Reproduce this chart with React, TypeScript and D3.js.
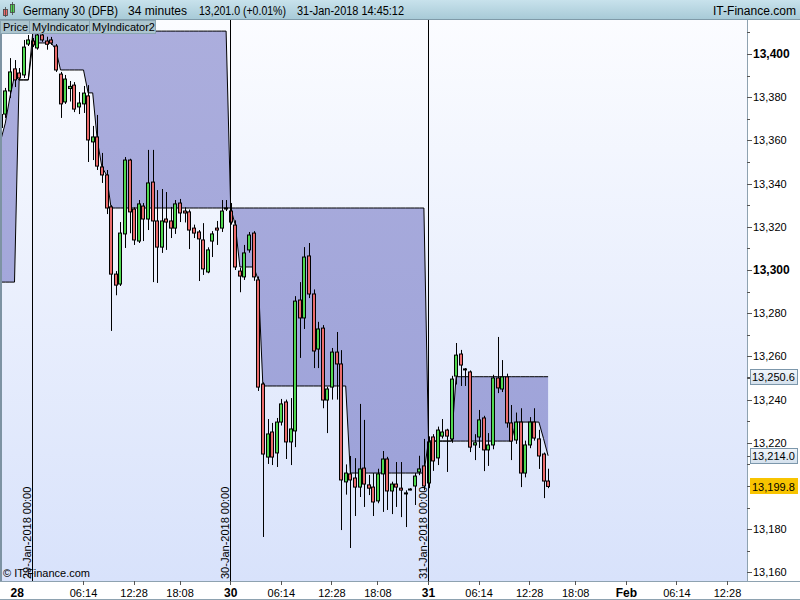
import React from 'react';
import * as d3 from 'd3';

// candle index: 0 = 29-Jan 00:00, 34-minute bars, 43 bars per day
const START = -7;
const opens = [
  13366.0,
  13372.2, 13382.9, 13393.1, 13391.2, 13390.3, 13404.6,
  13406.0, 13402.8, 13408.8, 13406.0, 13406.5, 13403.7, 13390.7, 13377.8, 13384.0, 13385.6,
  13375.5, 13376.9, 13380.6, 13359.3, 13361.6, 13347.7, 13344.0, 13329.2, 13298.1, 13293.5,
  13316.7, 13350.9, 13328.2, 13313.4, 13329.6, 13323.6, 13340.7, 13322.7, 13310.6, 13323.6,
  13322.7, 13319.4, 13331.0, 13327.3, 13326.9, 13319.4, 13317.6, 13313.9, 13299.1, 13313.4,
  13319.4, 13319.4, 13328.7,
  13327.3, 13320.8, 13299.5, 13296.8, 13309.3, 13317.1, 13295.4, 13247.2, 13213.4, 13225.0,
  13215.3, 13229.6, 13238.9, 13220.4, 13225.5, 13286.1, 13277.8, 13306.5, 13288.9, 13263.4,
  13273.1, 13239.8, 13245.8, 13262.0, 13256.5, 13201.9, 13205.6, 13203.7, 13199.5, 13208.3,
  13200.5, 13199.5, 13193.1, 13205.6, 13212.5, 13197.7, 13200.9, 13199.0, 13196.8, 13198.6,
  13200.0, 13206.5, 13209.3,
  13201.4, 13222.7, 13213.0, 13223.1, 13225.9, 13221.8, 13250.9, 13261.1, 13254.2, 13252.8,
  13219.0, 13222.7, 13231.5, 13216.7, 13219.0, 13250.0, 13244.9, 13250.5, 13229.2, 13221.3,
  13229.6, 13206.0, 13219.0, 13229.6, 13221.8, 13214.8, 13202.3,
];
const highs = [
  13374.0,
  13384.3, 13398.1, 13397.2, 13393.5, 13406.5, 13408.8,
  13407.4, 13410.0, 13409.7, 13408.0, 13407.9, 13404.6, 13391.7, 13390.3, 13387.5, 13387.0,
  13382.4, 13385.2, 13385.6, 13366.7, 13371.8, 13354.2, 13346.3, 13330.0, 13299.5, 13322.2,
  13352.3, 13351.5, 13329.0, 13332.4, 13331.0, 13355.6, 13355.6, 13337.0, 13337.5, 13336.1,
  13329.2, 13332.4, 13332.9, 13329.0, 13328.0, 13321.0, 13318.5, 13321.7, 13310.5, 13318.0,
  13322.7, 13332.4, 13332.4,
  13331.0, 13323.0, 13301.0, 13311.6, 13317.6, 13318.0, 13297.0, 13248.0, 13231.0, 13229.2,
  13231.5, 13240.3, 13240.0, 13240.7, 13287.9, 13294.4, 13310.6, 13312.5, 13291.0, 13276.0,
  13274.5, 13246.0, 13263.9, 13271.3, 13262.9, 13210.0, 13213.9, 13212.9, 13238.0, 13230.6,
  13205.1, 13206.0, 13208.0, 13216.2, 13213.5, 13202.0, 13211.1, 13211.1, 13198.0, 13199.0,
  13206.0, 13214.0, 13221.8,
  13223.0, 13224.0, 13227.5, 13231.0, 13226.5, 13251.0, 13266.2, 13263.0, 13254.6, 13253.5,
  13224.0, 13235.2, 13232.5, 13224.5, 13251.5, 13269.0, 13258.3, 13252.0, 13237.5, 13234.0,
  13236.0, 13221.0, 13231.9, 13236.0, 13226.0, 13215.5, 13208.0,
];
const lows = [
  13362.0,
  13370.4, 13379.6, 13384.7, 13388.0, 13388.9, 13403.7,
  13403.2, 13402.0, 13405.6, 13402.0, 13404.2, 13391.7, 13370.4, 13376.9, 13378.0, 13373.1,
  13372.2, 13372.7, 13350.0, 13350.9, 13346.3, 13340.3, 13325.9, 13271.8, 13288.3, 13292.6,
  13310.2, 13317.0, 13311.6, 13312.5, 13313.4, 13318.5, 13294.4, 13294.0, 13307.9, 13309.3,
  13314.8, 13316.7, 13322.2, 13322.0, 13309.7, 13314.8, 13294.9, 13297.7, 13298.5, 13306.0,
  13311.6, 13317.6, 13327.3,
  13321.0, 13300.0, 13289.7, 13295.4, 13308.0, 13295.0, 13244.0, 13176.4, 13210.2, 13209.7,
  13208.8, 13228.0, 13212.5, 13209.7, 13218.0, 13259.3, 13272.7, 13287.0, 13254.6, 13254.6,
  13236.0, 13224.5, 13240.0, 13240.0, 13179.6, 13196.0, 13171.3, 13186.1, 13194.9, 13190.3,
  13195.8, 13186.1, 13192.0, 13188.0, 13188.9, 13187.0, 13190.3, 13185.6, 13181.0, 13198.0,
  13191.2, 13205.0, 13198.0,
  13199.0, 13207.0, 13209.7, 13222.0, 13206.5, 13220.0, 13247.0, 13246.3, 13246.3, 13215.7,
  13212.0, 13217.6, 13206.9, 13209.3, 13217.0, 13243.0, 13243.5, 13227.0, 13212.0, 13219.5,
  13199.5, 13204.0, 13217.5, 13221.0, 13207.9, 13194.4, 13199.0,
];
const closes = [
  13372.0,
  13382.9, 13391.7, 13388.0, 13388.9, 13403.2, 13406.5,
  13404.2, 13408.8, 13406.5, 13404.5, 13405.1, 13392.6, 13376.9, 13388.4, 13385.0, 13374.5,
  13377.3, 13381.9, 13360.2, 13361.6, 13348.1, 13344.0, 13328.7, 13298.1, 13293.0, 13317.1,
  13350.9, 13326.9, 13313.9, 13330.6, 13323.6, 13340.3, 13322.7, 13310.6, 13322.7, 13322.2,
  13319.4, 13330.6, 13326.4, 13326.4, 13318.5, 13317.1, 13314.4, 13300.5, 13309.3, 13316.7,
  13318.5, 13327.3, 13328.5,
  13322.2, 13301.4, 13297.2, 13307.9, 13316.2, 13296.8, 13245.8, 13214.8, 13224.1, 13213.4,
  13229.6, 13238.0, 13220.4, 13226.4, 13285.6, 13277.8, 13306.0, 13288.9, 13262.5, 13272.7,
  13239.8, 13244.9, 13262.0, 13256.5, 13202.8, 13206.0, 13202.8, 13199.5, 13207.9, 13200.9,
  13199.0, 13192.6, 13205.6, 13212.5, 13197.7, 13200.9, 13199.5, 13198.1, 13196.8, 13198.4,
  13204.6, 13207.9, 13200.0,
  13220.4, 13211.6, 13225.9, 13225.0, 13223.1, 13249.5, 13260.6, 13256.0, 13254.0, 13218.0,
  13220.0, 13230.6, 13216.7, 13219.0, 13250.0, 13245.4, 13250.5, 13229.2, 13220.8, 13229.6,
  13206.0, 13219.0, 13229.6, 13222.2, 13213.9, 13202.3, 13199.8,
];
// MyIndicator (lower trailing line) and MyIndicator2 (daily step)
const myIndicator = [
  13360.0,
  13368.0, 13380.0, 13390.0, 13388.0, 13388.0, 13388.0,
  13405.1, 13405.1, 13405.1, 13405.1, 13405.1, 13402.0, 13392.6, 13392.6, 13392.6, 13392.6,
  13392.6, 13392.6, 13382.0, 13382.0, 13360.0, 13347.7, 13344.0, 13328.7, 13328.7, 13328.7,
  13328.7, 13328.7, 13328.7, 13328.7, 13328.7, 13328.7, 13328.7, 13328.7, 13328.7, 13328.7,
  13328.7, 13328.7, 13328.7, 13328.7, 13328.7, 13328.7, 13328.7, 13328.7, 13328.7, 13328.7,
  13328.7, 13328.7, 13328.7,
  13328.7, 13320.8, 13301.4, 13301.4, 13301.4, 13301.4, 13295.4, 13246.3, 13246.3, 13246.3,
  13246.3, 13246.3, 13246.3, 13246.3, 13246.3, 13246.3, 13246.3, 13246.3, 13246.3, 13246.3,
  13246.3, 13246.3, 13246.3, 13246.3, 13246.3, 13246.3, 13206.0, 13206.0, 13206.0, 13206.0,
  13206.0, 13206.0, 13206.0, 13206.0, 13206.0, 13206.0, 13206.0, 13206.0, 13206.0, 13206.0,
  13206.0, 13206.0, 13206.0,
  13220.8, 13220.8, 13220.8, 13220.8, 13220.8, 13220.8, 13220.8, 13220.8, 13220.8, 13220.8,
  13220.8, 13220.8, 13220.8, 13220.8, 13220.8, 13220.8, 13220.8, 13220.8, 13220.8, 13229.6,
  13229.6, 13229.6, 13229.6, 13229.6, 13229.6, 13222.0, 13214.0,
];
const myIndicator2 = [
  13294.4,
  13294.4, 13294.4, 13294.4, 13388.0, 13388.0, 13388.0,
  13410.6, 13410.6, 13410.6, 13410.6, 13410.6, 13410.6, 13410.6, 13410.6, 13410.6, 13410.6,
  13410.6, 13410.6, 13410.6, 13410.6, 13410.6, 13410.6, 13410.6, 13410.6, 13410.6, 13410.6,
  13410.6, 13410.6, 13410.6, 13410.6, 13410.6, 13410.6, 13410.6, 13410.6, 13410.6, 13410.6,
  13410.6, 13410.6, 13410.6, 13410.6, 13410.6, 13410.6, 13410.6, 13410.6, 13410.6, 13410.6,
  13410.6, 13410.6, 13410.6,
  13328.7, 13328.7, 13328.7, 13328.7, 13328.7, 13328.7, 13328.7, 13328.7, 13328.7, 13328.7,
  13328.7, 13328.7, 13328.7, 13328.7, 13328.7, 13328.7, 13328.7, 13328.7, 13328.7, 13328.7,
  13328.7, 13328.7, 13328.7, 13328.7, 13328.7, 13328.7, 13328.7, 13328.7, 13328.7, 13328.7,
  13328.7, 13328.7, 13328.7, 13328.7, 13328.7, 13328.7, 13328.7, 13328.7, 13328.7, 13328.7,
  13328.7, 13328.7, 13328.7,
  13220.8, 13220.8, 13220.8, 13220.8, 13220.8, 13220.8, 13250.6, 13250.6, 13250.6, 13250.6,
  13250.6, 13250.6, 13250.6, 13250.6, 13250.6, 13250.6, 13250.6, 13250.6, 13250.6, 13250.6,
  13250.6, 13250.6, 13250.6, 13250.6, 13250.6, 13250.6, 13250.6,
];

const yTicks = [13160, 13180, 13200, 13220, 13240, 13260, 13280, 13300, 13320, 13340, 13360, 13380, 13400];
const yBold = [13300, 13400];
const dayLines = [
  { idx: 0, label: '29-Jan-2018 00:00' },
  { idx: 43, label: '30-Jan-2018 00:00' },
  { idx: 86, label: '31-Jan-2018 00:00' },
];
const xLabels = [
  { idx: -3.4, text: '28', bold: true, tick: false },
  { idx: 11, text: '06:14', bold: false, tick: true },
  { idx: 22, text: '12:28', bold: false, tick: true },
  { idx: 32, text: '18:08', bold: false, tick: true },
  { idx: 43, text: '30', bold: true, tick: true },
  { idx: 54, text: '06:14', bold: false, tick: true },
  { idx: 65, text: '12:28', bold: false, tick: true },
  { idx: 75, text: '18:08', bold: false, tick: true },
  { idx: 86, text: '31', bold: true, tick: true },
  { idx: 97, text: '06:14', bold: false, tick: true },
  { idx: 108, text: '12:28', bold: false, tick: true },
  { idx: 118, text: '18:08', bold: false, tick: true },
  { idx: 129, text: 'Feb', bold: true, tick: true },
  { idx: 140, text: '06:14', bold: false, tick: true },
  { idx: 151, text: '12:28', bold: false, tick: true },
];
const badges = [
  { value: 13250.6, kind: 'ind' },
  { value: 13214.0, kind: 'ind' },
  { value: 13199.8, kind: 'price' },
];
const headerTexts = [
  { t: 'Germany 30 (DFB)', x0: 23, w: 95 },
  { t: '34 minutes', x0: 128, w: 59 },
  { t: '13,201.0 (+0.01%)', x0: 199, w: 87 },
  { t: '31-Jan-2018 14:45:12', x0: 297, w: 107 },
  { t: 'IT-Finance.com', x0: 713, w: 83 },
];

const FONT = 'Arial, "Liberation Sans", sans-serif';
const PL = 2, PR = 747, PT = 20, PB = 581;
const GREEN = '#4fd84f';
const RED = '#ea6b6b';

export default function App() {
  const x = d3.scaleLinear().domain([0, 86]).range([32.9, 428.5]);
  const y = d3.scaleLinear().domain([13160, 13400]).range([572.4, 54]);
  const fmt = d3.format(',.0f');
  const fmt1 = d3.format(',.1f');

  const candles = opens.map((o, k) => ({
    i: START + k, o, h: highs[k], l: lows[k], c: closes[k],
    a: myIndicator[k], b: myIndicator2[k],
  }));

  const area = d3.area<any>().x(d => x(d.i)).y0(d => y(d.a)).y1(d => y(d.b));
  const lineA = d3.line<any>().x(d => x(d.i)).y(d => y(d.a));
  const lineB = d3.line<any>().x(d => x(d.i)).y(d => y(d.b));

  const minorTicks = d3.range(13170, 13420, 20);
  const hiddenByBadge = (t: number) => badges.some(b => b.kind === 'price' && Math.abs(y(b.value) - y(t)) < 12);

  return (
    <svg width={800} height={600} style={{ position: 'absolute', left: 0, top: 0, fontFamily: FONT }}>
      <defs>
        <linearGradient id="plotBg" x1="0" y1="0" x2="0" y2="1">
          <stop offset="0" stopColor="#fbfcff" />
          <stop offset="1" stopColor="#d8e2fb" />
        </linearGradient>
        <linearGradient id="fillG" gradientUnits="userSpaceOnUse" x1="0" y1={PT} x2="0" y2={PB}>
          <stop offset="0" stopColor="#acaedd" />
          <stop offset="1" stopColor="#9aa0d8" />
        </linearGradient>
        <linearGradient id="hdr" x1="0" y1="0" x2="0" y2="1">
          <stop offset="0" stopColor="#c8e2ec" />
          <stop offset="1" stopColor="#a6c9d6" />
        </linearGradient>
        <linearGradient id="badge" x1="0" y1="0" x2="0" y2="1">
          <stop offset="0" stopColor="#f2f6fb" />
          <stop offset="1" stopColor="#d3e0ec" />
        </linearGradient>
        <clipPath id="plotClip">
          <rect x={PL} y={PT} width={PR - PL} height={PB - PT} />
        </clipPath>
      </defs>

      <rect x={0} y={0} width={800} height={600} fill="#ffffff" />
      <rect x={PL} y={PT} width={PR - PL} height={PB - PT} fill="url(#plotBg)" />

      <g clipPath="url(#plotClip)">
        <path d={area(candles) || ''} fill="url(#fillG)" />
        <path d={lineA(candles) || ''} fill="none" stroke="#000" strokeWidth={1} />
        <path d={lineB(candles) || ''} fill="none" stroke="#000" strokeWidth={1} />

        {candles.map(d => {
          const cx = Math.round(x(d.i));
          const up = d.c >= d.o;
          const top = y(Math.max(d.o, d.c));
          const bot = y(Math.min(d.o, d.c));
          return (
            <g key={d.i}>
              <line x1={cx + 0.5} x2={cx + 0.5} y1={y(d.h)} y2={y(d.l)} stroke="#000" strokeWidth={1} />
              <rect x={cx - 1.5} y={top} width={3} height={Math.max(bot - top, 1)}
                fill={up ? GREEN : RED} stroke="#000" strokeWidth={1} />
            </g>
          );
        })}

        {dayLines.map(dl => {
          const lx = Math.floor(x(dl.idx)) + 0.5;
          return (
            <g key={dl.idx}>
              <line x1={lx} x2={lx} y1={PT} y2={PB} stroke="#000" strokeWidth={1} />
              <text transform={`translate(${lx - 1.5},579) rotate(-90)`} fontSize={11} fill="#000">{dl.label}</text>
            </g>
          );
        })}
        <text x={3} y={577} fontSize={11} fill="#000">© IT-Finance.com</text>
      </g>

      {/* left border */}
      <rect x={0} y={PT} width={2} height={PB - PT} fill="#7d93a3" />

      {/* right axis */}
      <line x1={PR + 0.5} x2={PR + 0.5} y1={PT} y2={PB} stroke="#8ea2b0" />
      {yTicks.map(t => (
        <g key={t}>
          <line x1={PR} x2={PR + 5} y1={Math.round(y(t)) + 0.5} y2={Math.round(y(t)) + 0.5} stroke="#555" />
          {!hiddenByBadge(t) && (
            <text x={PR + 6} y={y(t) + 4} fontSize={yBold.includes(t) ? 12 : 11}
              fontWeight={yBold.includes(t) ? 'bold' : 'normal'} fill="#000">{fmt(t)}</text>
          )}
        </g>
      ))}
      {minorTicks.map(t => (
        <line key={t} x1={PR} x2={PR + 3} y1={Math.round(y(t)) + 0.5} y2={Math.round(y(t)) + 0.5} stroke="#555" />
      ))}
      {badges.map(b => {
        const cy = y(b.value);
        return (
          <g key={b.value}>
            <line x1={PR} x2={PR + 4} y1={Math.round(cy) + 0.5} y2={Math.round(cy) + 0.5} stroke="#555" />
            <rect x={750.5} y={Math.round(cy) - 7.5} width={47} height={15}
              fill={b.kind === 'price' ? '#f8c400' : 'url(#badge)'}
              stroke={b.kind === 'price' ? '#f8c400' : '#7c97ab'} />
            <text x={752} y={cy + 4.5} fontSize={11} fill="#000">{fmt1(b.value)}</text>
          </g>
        );
      })}

      {/* bottom axis */}
      <line x1={0} x2={800} y1={PB + 0.5} y2={PB + 0.5} stroke="#8ea2b0" />
      <line x1={0} x2={800} y1={599.5} y2={599.5} stroke="#8ea2b0" />
      {xLabels.map(l => {
        const lx = Math.floor(x(l.idx)) + 0.5;
        return (
          <g key={l.idx}>
            {l.tick && <line x1={lx} x2={lx} y1={PB} y2={PB + 4} stroke="#555" />}
            <text x={x(l.idx)} y={597} textAnchor="middle" fontSize={l.bold ? 12 : 11}
              fontWeight={l.bold ? 'bold' : 'normal'} fill="#000">{l.text}</text>
          </g>
        );
      })}

      {/* header */}
      <rect x={0} y={0} width={800} height={20} fill="url(#hdr)" />
      <line x1={0} x2={800} y1={19.5} y2={19.5} stroke="#7f9aa8" />
      <g>
        <rect x={3.5} y={9.5} width={4} height={6} fill={RED} stroke="#444" strokeWidth={0.8} />
        <line x1={5.5} x2={5.5} y1={7} y2={17} stroke="#444" strokeWidth={0.8} />
        <rect x={10.5} y={4.5} width={4} height={8} fill={GREEN} stroke="#444" strokeWidth={0.8} />
        <line x1={12.5} x2={12.5} y1={2} y2={15} stroke="#444" strokeWidth={0.8} />
      </g>
      {headerTexts.map(h => (
        <text key={h.t} x={h.x0} y={15} fontSize={12.5} fill="#000"
          textLength={h.w} lengthAdjust="spacingAndGlyphs">{h.t}</text>
      ))}

      {/* tabs */}
      {[{ x0: 0, w: 29, t: 'Price' }, { x0: 29, w: 60, t: 'MyIndicator' }, { x0: 89, w: 66, t: 'MyIndicator2' }].map(tb => (
        <g key={tb.t}>
          <rect x={tb.x0 + 0.5} y={20.5} width={tb.w} height={13} fill="#acc5cf" stroke="#8aa5b2" />
          <text x={tb.x0 + 3} y={31} fontSize={11} fill="#000">{tb.t}</text>
        </g>
      ))}
    </svg>
  );
}
